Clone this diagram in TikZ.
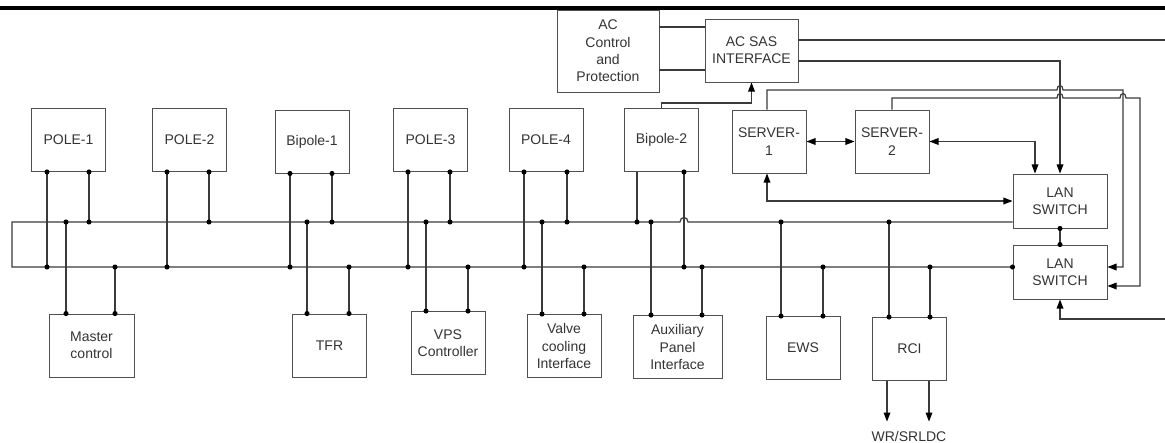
\documentclass[tikz,border=0pt]{standalone}
\usepackage{fontspec}
\setmainfont{Liberation Sans}
\usetikzlibrary{arrows.meta}
\definecolor{linegray}{HTML}{3A3A3A}
\definecolor{boxgray}{HTML}{505050}
\begin{document}
\begin{tikzpicture}[x=0.75pt,y=-0.75pt,line width=0.9pt,linegray,
    font=\fontsize{10.5}{13}\selectfont,text=black!80,
    box/.style={draw=boxgray,line width=0.7pt,minimum width=55.5pt,minimum height=47.25pt,align=center,inner sep=1pt},
    dot/.style={circle,fill=black,inner sep=0pt,minimum size=3.8pt},
    >={Triangle[length=6.8pt,width=5pt,fill=black,color=black]}]
    \useasboundingbox (0,0) rectangle (1165,443);
    \draw[line width=2.3pt,black] (0,8) -- (1165,8);

    % upper row
    \node[box] (pole1) at (68.5,140) {POLE-1};
    \node[box] (pole2) at (189.5,140) {POLE-2};
    \node[box] (bip1) at (312,141.5) {Bipole-1};
    \node[box] (pole3) at (430.5,140) {POLE-3};
    \node[box] (pole4) at (546,140) {POLE-4};
    \node[box] (bip2) at (661.5,140) {Bipole-2};
    \node[box,minimum width=76.5pt,minimum height=61.5pt] (acc) at (608,51) {AC\\Control\\and\\Protection};
    \node[box,minimum width=69.75pt] (sas) at (751.5,50.5) {AC SAS\\INTERFACE};
    \node[box] (srv1) at (769,141.5) {SERVER-\\1};
    \node[box] (srv2) at (892,141.5) {SERVER-\\2};
    \node[box,minimum width=70.5pt,minimum height=40.5pt] (lan1) at (1060,201) {LAN\\SWITCH};
    \node[box,minimum width=70.5pt,minimum height=40.5pt] (lan2) at (1060,272) {LAN\\SWITCH};

    % lower row
    \node[box,minimum width=63.75pt] (master) at (91.5,345.5) {Master\\control};
    \node[box] (tfr) at (329.5,345.5) {TFR};
    \node[box] (vps) at (448,343) {VPS\\Controller};
    \node[box] (valve) at (564,346) {Valve\\cooling\\Interface};
    \node[box,minimum width=66.75pt] (aux) at (677.5,347) {Auxiliary\\Panel\\Interface};
    \node[box] (ews) at (803,348) {EWS};
    \node[box] (rci) at (909.5,349) {RCI};
    \node[inner xsep=0pt,inner ysep=6.5pt] (wr) at (909,436) {WR/SRLDC};

    % bus
    \coordinate (busA) at (12,222);
    \coordinate (busB) at (12,267);
    \draw (lan1.west |- busA) -- (688,222) .. controls (688,216) and (680,216) .. (680,222)
        -- (busA) -- (busB) -- (lan2.west |- busB) node[dot]{};

    \foreach \x/\n/\b in {47/pole1/busB,89/pole1/busA,167/pole2/busB,209/pole2/busA,
        290/bip1/busB,332/bip1/busA,408/pole3/busB,450/pole3/busA,
        524/pole4/busB,567/pole4/busA,684/bip2/busB}
        \draw (\x,0 |- \n.south) node[dot]{} -- (\x,0 |- \b) node[dot]{};
    \draw (637,0 |- bip2.south) -- (637,0 |- busA) node[dot]{};

    \foreach \x/\n/\b in {66/master/busA,115/master/busB,307/tfr/busA,349/tfr/busB,
        426/vps/busA,468/vps/busB,542/valve/busA,584/valve/busB,
        651/aux/busA,702/aux/busB,781/ews/busA,823/ews/busB,889/rci/busA,930/rci/busB}
        \draw (\x,0 |- \b) node[dot]{} -- (\x,0 |- \n.north) node[dot]{};

    % control side
    \coordinate (edgeA) at (1165,40);
    \coordinate (edgeB) at (1165,319);
    \draw (acc.east |- 0,27) -- (sas.west |- 0,27);
    \draw (acc.east |- 0,70) -- (sas.west |- 0,70);
    \draw (sas.east |- edgeA) -- (edgeA);
    \draw[->] (sas.east |- 0,61) -| (lan1.north);
    \draw[->] (bip2.north) |- (sas.south |- 0,103) -- (sas.south);
    \draw[->] (767,0 |- srv1.north) -- (767,90) -- (1057,90) .. controls (1057,84) and (1063,84) .. (1063,90)
        -- (1123,90) -- (1123,267) -- (lan2.east |- 0,267);
    \draw[->] (srv2.north) -- (892,98) -- (1057,98) .. controls (1057,92) and (1063,92) .. (1063,98)
        -- (1120,98) .. controls (1120,92) and (1126,92) .. (1126,98)
        -- (1140,98) -- (1140,286) -- (lan2.east |- 0,286);
    \draw[<->] (srv1.east) -- (srv2.west);
    \draw[<->] (srv2.east) -| (1035,0 |- lan1.north);
    \draw[<->] (767,0 |- srv1.south) |- (lan1.west);
    \draw (lan1.south) node[dot]{} -- (lan2.north) node[dot]{};
    \draw[->] (edgeB) -| (lan2.south);
    \draw[->] (887,0 |- rci.south) -- (887,0 |- wr.north);
    \draw[->] (929,0 |- rci.south) -- (929,0 |- wr.north);
\end{tikzpicture}
\end{document}
